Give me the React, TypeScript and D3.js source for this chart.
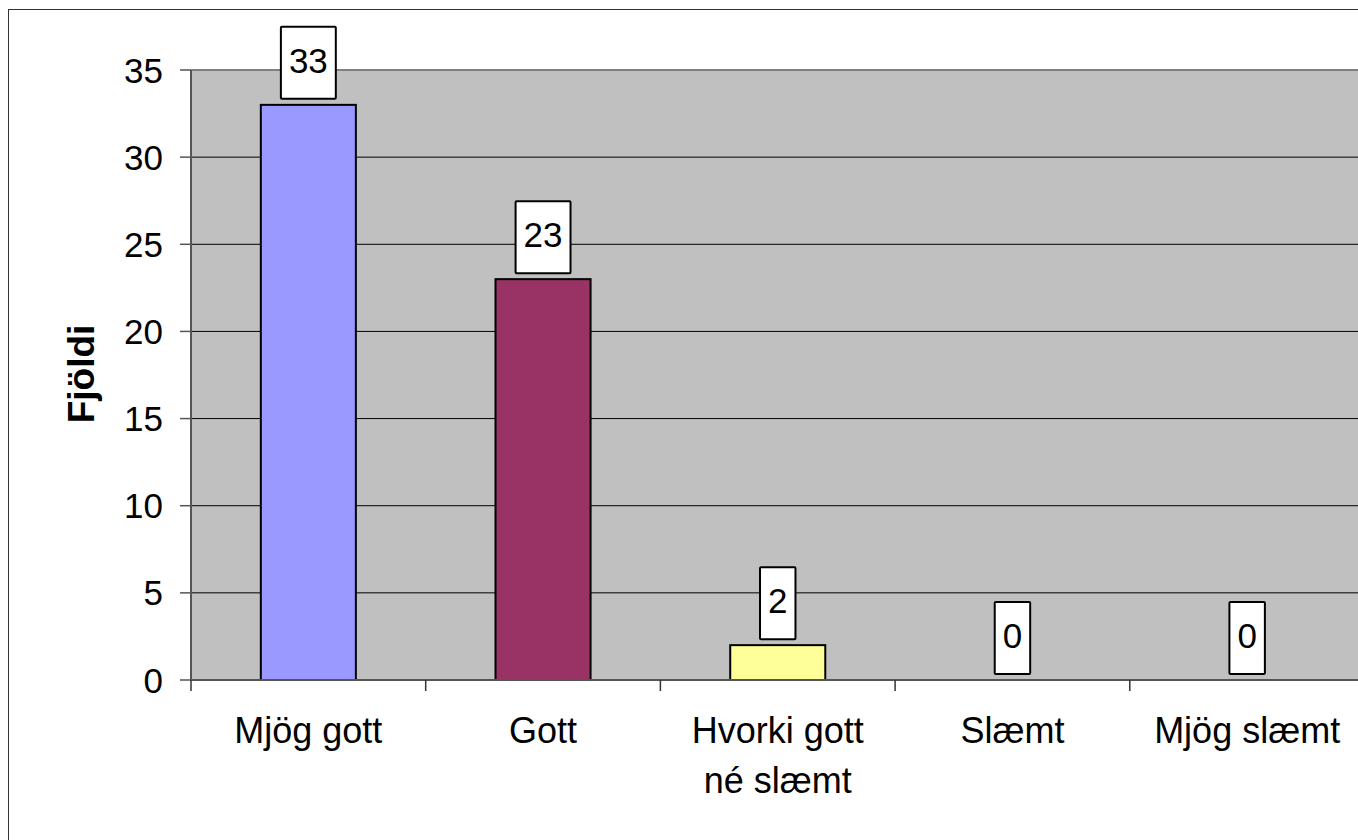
import React from "react";
import * as d3 from "d3";

const categories = ["Mjög gott", "Gott", "Hvorki gott né slæmt", "Slæmt", "Mjög slæmt"];
const categoryLines = [["Mjög gott"], ["Gott"], ["Hvorki gott", "né slæmt"], ["Slæmt"], ["Mjög slæmt"]];
const values = [33, 23, 2, 0, 0];
const barColors = ["#9999FF", "#993366", "#FFFF99", "#9999FF", "#993366"];
const yTicks = [0, 5, 10, 15, 20, 25, 30, 35];
const yTitle = "Fjöldi";

const FONT = "'Liberation Sans', Arial, Helvetica, sans-serif";

export default function App() {
  const W = 1358;
  const H = 840;
  const plotLeft = 191;
  const plotRight = 1364.5;
  const plotTop = 70;
  const plotBottom = 680;

  const x = d3.scaleBand<string>().domain(categories).range([plotLeft, plotRight]).paddingInner(0).paddingOuter(0);
  const y = d3.scaleLinear().domain([0, 35]).range([plotBottom, plotTop]);
  const barW = x.bandwidth() * 0.405;

  const tickEdges = categories.map((c) => x(c) as number);

  return (
    <svg
      width={W}
      height={H}
      style={{ position: "absolute", left: 0, top: 0, display: "block" }}
      fontFamily={FONT}
    >
      <rect x={0} y={0} width={W} height={H} fill="#ffffff" />
      {/* outer frame */}
      <rect x={8.5} y={9.5} width={W + 20} height={H + 20} fill="none" stroke="#333" strokeWidth={1} />
      {/* plot area */}
      <rect x={plotLeft} y={plotTop} width={plotRight - plotLeft} height={plotBottom - plotTop} fill="#C0C0C0" />
      {/* gridlines */}
      {yTicks
        .filter((t) => t > 0 && t < 35)
        .map((t) => (
          <line key={"g" + t} x1={plotLeft} x2={plotRight} y1={y(t)} y2={y(t)} stroke="#000" strokeWidth={1} />
        ))}
      {/* top border */}
      <line x1={plotLeft} x2={plotRight} y1={y(35)} y2={y(35)} stroke="#808080" strokeWidth={2} />
      {/* bars */}
      {categories.map((c, i) =>
        values[i] > 0 ? (
          <rect
            key={"b" + c}
            x={(x(c) as number) + x.bandwidth() / 2 - barW / 2}
            y={y(values[i])}
            width={barW}
            height={y(0) - y(values[i])}
            fill={barColors[i]}
            stroke="#000"
            strokeWidth={2}
          />
        ) : null
      )}
      {/* axes */}
      <line x1={plotLeft} x2={plotLeft} y1={plotTop} y2={plotBottom} stroke="#555" strokeWidth={2} />
      <line x1={plotLeft} x2={plotRight} y1={plotBottom} y2={plotBottom} stroke="#555" strokeWidth={2} />
      {yTicks.map((t) => (
        <g key={"yt" + t}>
          <line x1={plotLeft - 11} x2={plotLeft} y1={y(t)} y2={y(t)} stroke="#555" strokeWidth={1.5} />
          <text x={163} y={y(t)} dy="0.36em" textAnchor="end" fontSize={35} fill="#000">
            {t}
          </text>
        </g>
      ))}
      {tickEdges.map((e, i) => (
        <line key={"xt" + i} x1={e} x2={e} y1={plotBottom} y2={plotBottom + 11} stroke="#333" strokeWidth={1.5} />
      ))}
      {categories.map((c, i) => (
        <text key={"xl" + c} x={(x(c) as number) + x.bandwidth() / 2} textAnchor="middle" fontSize={36} fill="#000">
          {categoryLines[i].map((line, j) => (
            <tspan key={j} x={(x(c) as number) + x.bandwidth() / 2} y={743 + j * 50}>
              {line}
            </tspan>
          ))}
        </text>
      ))}
      {/* data labels */}
      {categories.map((c, i) => {
        const label = String(values[i]);
        const tw = label.length * 0.556 * 35;
        const bw = tw + 16;
        const bottom = y(values[i]) - 6;
        const cx = (x(c) as number) + x.bandwidth() / 2;
        return (
          <g key={"dl" + c}>
            <rect x={cx - bw / 2} y={bottom - 72} width={bw} height={72} fill="#fff" stroke="#000" strokeWidth={2} rx={1} />
            <text x={cx} y={bottom - 26} textAnchor="middle" fontSize={35} fill="#000">
              {label}
            </text>
          </g>
        );
      })}
      {/* y axis title */}
      <text
        transform={`translate(94, 374) rotate(-90)`}
        textAnchor="middle"
        fontSize={37}
        fontWeight="bold"
        fill="#000"
      >
        {yTitle}
      </text>
    </svg>
  );
}
